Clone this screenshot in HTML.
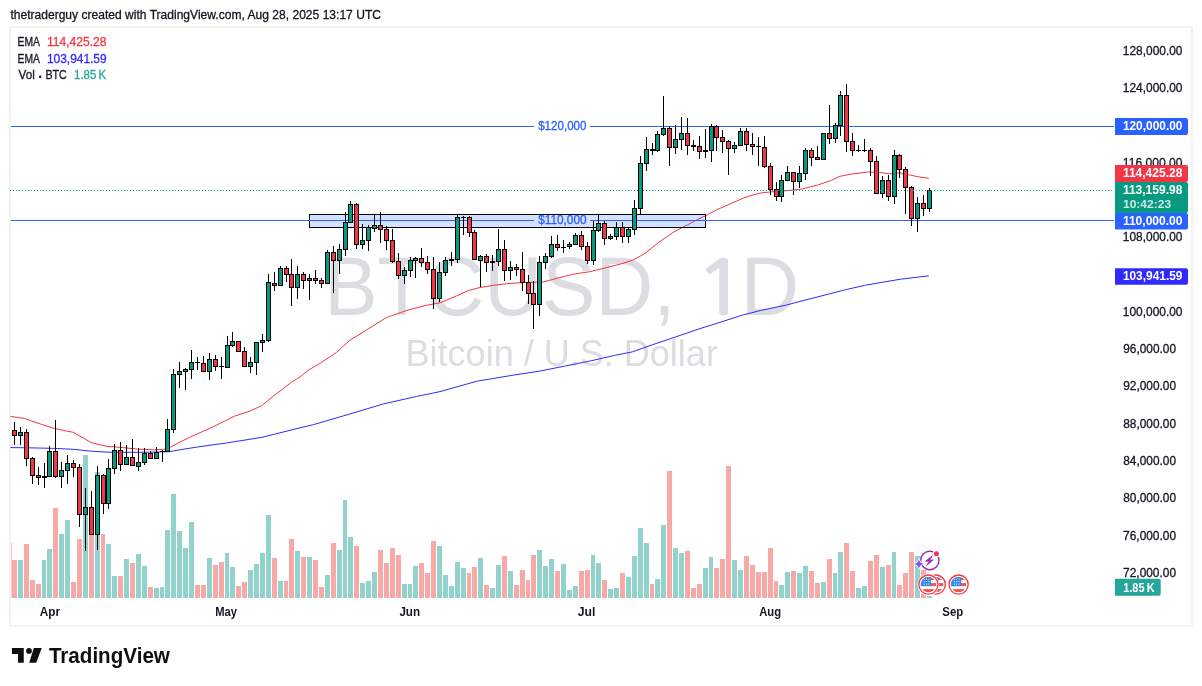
<!DOCTYPE html>
<html lang="en"><head><meta charset="utf-8"><title>BTCUSD 1D - TradingView</title>
<style>html,body{margin:0;padding:0;background:#fff}svg{display:block}</style>
</head><body>
<svg width="1202" height="686" viewBox="0 0 1202 686" font-family='"Liberation Sans", Arial, sans-serif'>
<rect width="1202" height="686" fill="#fff"/>
<rect x="10" y="27" width="1182" height="599" fill="none" stroke="#f2f2f2" stroke-width="2"/>
<text transform="translate(10.38,18.90) scale(0.9798,1)" font-size="12.32" fill="#131722" stroke="#131722" stroke-width="0.3">thetraderguy created with TradingView.com, Aug 28, 2025 13:17 UTC</text>
<text fill="#dcdde0"><tspan x="324.20" y="314.70" font-size="84.20" textLength="351.23" lengthAdjust="spacingAndGlyphs">BTCUSD,</tspan><tspan> </tspan><tspan x="695.01" y="313.80" font-size="73.55" textLength="51.91" lengthAdjust="spacingAndGlyphs" font-family="NanumGothic, &quot;Liberation Sans&quot;, sans-serif" stroke="#dcdde0" stroke-width="2.4">1</tspan><tspan x="740.63" y="314.70" font-size="84.20" textLength="58.38" lengthAdjust="spacingAndGlyphs">D</tspan></text>
<text transform="translate(405.52,365.90) scale(0.9717,1)" font-size="37.10" fill="#dcdde0">Bitcoin / U.S. Dollar</text>
<g shape-rendering="crispEdges">
<rect x="10.5" y="543" width="1" height="55" fill="#f7a9a7" fill-opacity="0.6"/>
<rect x="12" y="560" width="5" height="38" fill="#f7a9a7"/>
<rect x="18" y="560" width="5" height="38" fill="#92d2cc"/>
<rect x="24" y="544" width="5" height="54" fill="#f7a9a7"/>
<rect x="30" y="580" width="5" height="18" fill="#f7a9a7"/>
<rect x="36" y="584" width="5" height="14" fill="#f7a9a7"/>
<rect x="42" y="560" width="4" height="38" fill="#92d2cc"/>
<rect x="47" y="549" width="5" height="49" fill="#92d2cc"/>
<rect x="53" y="508" width="5" height="90" fill="#f7a9a7"/>
<rect x="59" y="534" width="5" height="64" fill="#92d2cc"/>
<rect x="65" y="520" width="5" height="78" fill="#92d2cc"/>
<rect x="71" y="582" width="5" height="16" fill="#f7a9a7"/>
<rect x="77" y="539" width="5" height="59" fill="#f7a9a7"/>
<rect x="83" y="455" width="5" height="143" fill="#92d2cc"/>
<rect x="89" y="515" width="5" height="83" fill="#f7a9a7"/>
<rect x="95" y="472" width="5" height="126" fill="#92d2cc"/>
<rect x="101" y="534" width="4" height="64" fill="#f7a9a7"/>
<rect x="106" y="544" width="5" height="54" fill="#92d2cc"/>
<rect x="112" y="576" width="5" height="22" fill="#92d2cc"/>
<rect x="118" y="576" width="5" height="22" fill="#f7a9a7"/>
<rect x="124" y="559" width="5" height="39" fill="#92d2cc"/>
<rect x="130" y="563" width="5" height="35" fill="#f7a9a7"/>
<rect x="136" y="554" width="5" height="44" fill="#92d2cc"/>
<rect x="142" y="566" width="5" height="32" fill="#92d2cc"/>
<rect x="148" y="587" width="5" height="11" fill="#f7a9a7"/>
<rect x="154" y="588" width="5" height="10" fill="#92d2cc"/>
<rect x="160" y="587" width="4" height="11" fill="#92d2cc"/>
<rect x="165" y="530" width="5" height="68" fill="#92d2cc"/>
<rect x="171" y="494" width="5" height="104" fill="#92d2cc"/>
<rect x="177" y="531" width="5" height="67" fill="#92d2cc"/>
<rect x="183" y="548" width="5" height="50" fill="#92d2cc"/>
<rect x="189" y="522" width="5" height="76" fill="#92d2cc"/>
<rect x="195" y="585" width="5" height="13" fill="#f7a9a7"/>
<rect x="201" y="585" width="5" height="13" fill="#f7a9a7"/>
<rect x="207" y="558" width="5" height="40" fill="#92d2cc"/>
<rect x="213" y="565" width="5" height="33" fill="#f7a9a7"/>
<rect x="219" y="562" width="5" height="36" fill="#f7a9a7"/>
<rect x="225" y="553" width="4" height="45" fill="#92d2cc"/>
<rect x="230" y="567" width="5" height="31" fill="#92d2cc"/>
<rect x="236" y="586" width="5" height="12" fill="#f7a9a7"/>
<rect x="242" y="582" width="5" height="16" fill="#f7a9a7"/>
<rect x="248" y="570" width="5" height="28" fill="#92d2cc"/>
<rect x="254" y="564" width="5" height="34" fill="#92d2cc"/>
<rect x="260" y="553" width="5" height="45" fill="#92d2cc"/>
<rect x="266" y="515" width="5" height="83" fill="#92d2cc"/>
<rect x="272" y="558" width="5" height="40" fill="#f7a9a7"/>
<rect x="278" y="581" width="5" height="17" fill="#92d2cc"/>
<rect x="284" y="581" width="4" height="17" fill="#f7a9a7"/>
<rect x="289" y="539" width="5" height="59" fill="#f7a9a7"/>
<rect x="295" y="551" width="5" height="47" fill="#92d2cc"/>
<rect x="301" y="557" width="5" height="41" fill="#f7a9a7"/>
<rect x="307" y="557" width="5" height="41" fill="#92d2cc"/>
<rect x="313" y="560" width="5" height="38" fill="#f7a9a7"/>
<rect x="319" y="587" width="5" height="11" fill="#f7a9a7"/>
<rect x="325" y="575" width="5" height="23" fill="#92d2cc"/>
<rect x="331" y="543" width="5" height="55" fill="#f7a9a7"/>
<rect x="337" y="550" width="5" height="48" fill="#92d2cc"/>
<rect x="343" y="500" width="4" height="98" fill="#92d2cc"/>
<rect x="348" y="537" width="5" height="61" fill="#92d2cc"/>
<rect x="354" y="546" width="5" height="52" fill="#f7a9a7"/>
<rect x="360" y="583" width="5" height="15" fill="#92d2cc"/>
<rect x="366" y="581" width="5" height="17" fill="#92d2cc"/>
<rect x="372" y="572" width="5" height="26" fill="#92d2cc"/>
<rect x="378" y="550" width="5" height="48" fill="#f7a9a7"/>
<rect x="384" y="563" width="5" height="35" fill="#f7a9a7"/>
<rect x="390" y="548" width="5" height="50" fill="#f7a9a7"/>
<rect x="396" y="555" width="5" height="43" fill="#f7a9a7"/>
<rect x="402" y="584" width="5" height="14" fill="#92d2cc"/>
<rect x="408" y="584" width="4" height="14" fill="#92d2cc"/>
<rect x="413" y="566" width="5" height="32" fill="#92d2cc"/>
<rect x="419" y="563" width="5" height="35" fill="#f7a9a7"/>
<rect x="425" y="573" width="5" height="25" fill="#f7a9a7"/>
<rect x="431" y="541" width="5" height="57" fill="#f7a9a7"/>
<rect x="437" y="546" width="5" height="52" fill="#92d2cc"/>
<rect x="443" y="575" width="5" height="23" fill="#92d2cc"/>
<rect x="449" y="586" width="5" height="12" fill="#92d2cc"/>
<rect x="455" y="562" width="5" height="36" fill="#92d2cc"/>
<rect x="461" y="568" width="5" height="30" fill="#92d2cc"/>
<rect x="467" y="573" width="4" height="25" fill="#f7a9a7"/>
<rect x="472" y="567" width="5" height="31" fill="#f7a9a7"/>
<rect x="478" y="558" width="5" height="40" fill="#92d2cc"/>
<rect x="484" y="585" width="5" height="13" fill="#f7a9a7"/>
<rect x="490" y="588" width="5" height="10" fill="#92d2cc"/>
<rect x="496" y="565" width="5" height="33" fill="#92d2cc"/>
<rect x="502" y="556" width="5" height="42" fill="#f7a9a7"/>
<rect x="508" y="571" width="5" height="27" fill="#92d2cc"/>
<rect x="514" y="585" width="5" height="13" fill="#f7a9a7"/>
<rect x="520" y="570" width="5" height="28" fill="#f7a9a7"/>
<rect x="526" y="580" width="4" height="18" fill="#f7a9a7"/>
<rect x="531" y="555" width="5" height="43" fill="#f7a9a7"/>
<rect x="537" y="550" width="5" height="48" fill="#92d2cc"/>
<rect x="543" y="566" width="5" height="32" fill="#92d2cc"/>
<rect x="549" y="559" width="5" height="39" fill="#92d2cc"/>
<rect x="555" y="571" width="5" height="27" fill="#f7a9a7"/>
<rect x="561" y="564" width="5" height="34" fill="#92d2cc"/>
<rect x="567" y="590" width="5" height="8" fill="#92d2cc"/>
<rect x="573" y="586" width="5" height="12" fill="#92d2cc"/>
<rect x="579" y="571" width="5" height="27" fill="#f7a9a7"/>
<rect x="585" y="570" width="5" height="28" fill="#f7a9a7"/>
<rect x="591" y="555" width="4" height="43" fill="#92d2cc"/>
<rect x="596" y="563" width="5" height="35" fill="#92d2cc"/>
<rect x="602" y="580" width="5" height="18" fill="#f7a9a7"/>
<rect x="608" y="589" width="5" height="9" fill="#92d2cc"/>
<rect x="614" y="588" width="5" height="10" fill="#92d2cc"/>
<rect x="620" y="573" width="5" height="25" fill="#f7a9a7"/>
<rect x="626" y="577" width="5" height="21" fill="#92d2cc"/>
<rect x="632" y="556" width="5" height="42" fill="#92d2cc"/>
<rect x="638" y="528" width="5" height="70" fill="#92d2cc"/>
<rect x="644" y="543" width="5" height="55" fill="#92d2cc"/>
<rect x="650" y="584" width="4" height="14" fill="#f7a9a7"/>
<rect x="655" y="579" width="5" height="19" fill="#92d2cc"/>
<rect x="661" y="525" width="5" height="73" fill="#92d2cc"/>
<rect x="667" y="471" width="5" height="127" fill="#f7a9a7"/>
<rect x="673" y="548" width="5" height="50" fill="#92d2cc"/>
<rect x="679" y="553" width="5" height="45" fill="#92d2cc"/>
<rect x="685" y="551" width="5" height="47" fill="#f7a9a7"/>
<rect x="691" y="588" width="5" height="10" fill="#f7a9a7"/>
<rect x="697" y="584" width="5" height="14" fill="#f7a9a7"/>
<rect x="703" y="568" width="5" height="30" fill="#92d2cc"/>
<rect x="709" y="557" width="4" height="41" fill="#92d2cc"/>
<rect x="714" y="568" width="5" height="30" fill="#f7a9a7"/>
<rect x="720" y="559" width="5" height="39" fill="#f7a9a7"/>
<rect x="726" y="466" width="5" height="132" fill="#f7a9a7"/>
<rect x="732" y="560" width="5" height="38" fill="#92d2cc"/>
<rect x="738" y="570" width="5" height="28" fill="#92d2cc"/>
<rect x="744" y="556" width="5" height="42" fill="#f7a9a7"/>
<rect x="750" y="565" width="5" height="33" fill="#f7a9a7"/>
<rect x="756" y="572" width="5" height="26" fill="#f7a9a7"/>
<rect x="762" y="572" width="5" height="26" fill="#f7a9a7"/>
<rect x="768" y="548" width="5" height="50" fill="#f7a9a7"/>
<rect x="774" y="581" width="4" height="17" fill="#f7a9a7"/>
<rect x="779" y="585" width="5" height="13" fill="#92d2cc"/>
<rect x="785" y="572" width="5" height="26" fill="#92d2cc"/>
<rect x="791" y="571" width="5" height="27" fill="#f7a9a7"/>
<rect x="797" y="573" width="5" height="25" fill="#92d2cc"/>
<rect x="803" y="566" width="5" height="32" fill="#92d2cc"/>
<rect x="809" y="571" width="5" height="27" fill="#f7a9a7"/>
<rect x="815" y="583" width="5" height="15" fill="#f7a9a7"/>
<rect x="821" y="582" width="5" height="16" fill="#92d2cc"/>
<rect x="827" y="559" width="5" height="39" fill="#f7a9a7"/>
<rect x="833" y="573" width="4" height="25" fill="#92d2cc"/>
<rect x="838" y="552" width="5" height="46" fill="#92d2cc"/>
<rect x="844" y="543" width="5" height="55" fill="#f7a9a7"/>
<rect x="850" y="571" width="5" height="27" fill="#f7a9a7"/>
<rect x="856" y="588" width="5" height="10" fill="#92d2cc"/>
<rect x="862" y="586" width="5" height="12" fill="#92d2cc"/>
<rect x="868" y="561" width="5" height="37" fill="#f7a9a7"/>
<rect x="874" y="555" width="5" height="43" fill="#f7a9a7"/>
<rect x="880" y="567" width="5" height="31" fill="#92d2cc"/>
<rect x="886" y="565" width="5" height="33" fill="#f7a9a7"/>
<rect x="892" y="552" width="4" height="46" fill="#92d2cc"/>
<rect x="897" y="585" width="5" height="13" fill="#f7a9a7"/>
<rect x="903" y="573" width="5" height="25" fill="#f7a9a7"/>
<rect x="909" y="552" width="5" height="46" fill="#f7a9a7"/>
<rect x="915" y="556" width="5" height="42" fill="#92d2cc"/>
<rect x="921" y="570" width="5" height="28" fill="#f7a9a7"/>
<rect x="927" y="596" width="5" height="2" fill="#92d2cc"/>
</g>
<path d="M10.5,416.4 L24.6,418.5 L41.3,424.3 L54.6,428.5 L66.2,431.0 L72.9,432.2 L81.2,436.8 L91.2,442.6 L99.5,444.7 L108.0,446.5 L119.8,447.3 L137.3,449.1 L154.7,449.8 L167.2,449.1 L174.7,444.8 L189.7,437.3 L212.1,427.3 L234.6,416.1 L250.0,411.1 L261.6,405.7 L275.0,394.8 L287.0,385.8 L291.6,382.0 L300.0,377.0 L308.2,370.3 L321.5,362.4 L336.5,352.4 L349.8,340.4 L366.5,330.0 L386.4,317.5 L408.1,310.0 L426.4,305.3 L440.0,302.8 L456.6,295.9 L468.3,290.5 L479.9,287.5 L494.9,285.1 L509.9,283.4 L523.2,282.6 L543.2,282.0 L556.5,278.4 L573.1,274.2 L589.8,271.7 L606.4,267.6 L623.0,263.4 L633.0,260.1 L644.0,254.0 L659.9,241.5 L673.2,232.3 L686.5,225.4 L697.5,219.5 L705.5,215.8 L716.4,209.9 L729.8,204.1 L743.1,198.2 L753.0,194.9 L761.4,192.9 L769.7,192.0 L785.0,190.8 L801.6,189.1 L818.2,184.9 L831.5,180.3 L839.9,176.3 L853.2,173.8 L868.2,172.0 L879.8,172.5 L889.8,173.8 L899.8,172.8 L909.8,175.0 L919.7,177.0 L928.9,178.3" fill="none" stroke="#f23645" stroke-width="1" stroke-linejoin="round"/>
<path d="M10.5,447.6 L33.0,447.9 L54.6,448.4 L74.6,449.4 L91.2,451.2 L108.0,452.2 L124.8,452.3 L149.7,452.2 L169.7,451.6 L183.0,449.3 L200.0,446.6 L226.5,443.0 L262.0,437.3 L300.0,427.8 L313.3,424.7 L349.8,414.0 L383.1,404.0 L416.4,396.5 L440.0,391.6 L477.4,381.1 L514.9,374.9 L539.8,371.1 L564.8,366.1 L589.7,361.1 L614.7,355.4 L632.2,351.9 L652.1,344.9 L677.1,336.4 L700.0,328.6 L721.6,321.8 L743.3,314.8 L760.6,310.5 L786.5,305.0 L808.2,299.3 L829.8,293.8 L842.8,290.4 L864.4,285.4 L883.9,282.0 L901.2,279.1 L916.3,277.3 L928.9,275.8" fill="none" stroke="#302afc" stroke-width="1" stroke-linejoin="round"/>
<g shape-rendering="crispEdges">
<rect x="309.5" y="214.5" width="396" height="13" fill="#2962ff" fill-opacity="0.2" stroke="#000" stroke-width="1"/>
<rect x="11" y="126" width="523" height="1" fill="#2962ff"/><rect x="590" y="126" width="524" height="1" fill="#2962ff"/>
<rect x="11" y="220" width="523" height="1" fill="#2962ff"/><rect x="590" y="220" width="524" height="1" fill="#2962ff"/>
</g>
<g font-size="11.8" fill="#2962ff">
<text transform="translate(538.18,129.80) scale(0.9774,1)" font-size="11.86" fill="#2962ff" stroke="#2962ff" stroke-width="0.3">$120,000</text>
<text transform="translate(538.18,223.90) scale(0.9953,1)" font-size="11.86" fill="#2962ff" stroke="#2962ff" stroke-width="0.3">$110,000</text>
</g>
<g shape-rendering="crispEdges">
<rect x="14" y="422" width="1" height="23" fill="#000"/>
<rect x="12" y="430" width="5" height="6" fill="#000"/>
<rect x="13" y="431" width="3" height="4" fill="#f23645"/>
<rect x="20" y="427" width="1" height="18" fill="#000"/>
<rect x="18" y="432" width="5" height="4" fill="#000"/>
<rect x="19" y="433" width="3" height="2" fill="#089981"/>
<rect x="26" y="429" width="1" height="37" fill="#000"/>
<rect x="24" y="432" width="5" height="27" fill="#000"/>
<rect x="25" y="433" width="3" height="25" fill="#f23645"/>
<rect x="32" y="457" width="1" height="27" fill="#000"/>
<rect x="30" y="458" width="5" height="18" fill="#000"/>
<rect x="31" y="459" width="3" height="16" fill="#f23645"/>
<rect x="38" y="467" width="1" height="18" fill="#000"/>
<rect x="36" y="475" width="5" height="3" fill="#000"/>
<rect x="37" y="476" width="3" height="1" fill="#f23645"/>
<rect x="44" y="463" width="1" height="25" fill="#000"/>
<rect x="42" y="476" width="5" height="2" fill="#000"/>
<rect x="49" y="446" width="1" height="31" fill="#000"/>
<rect x="47" y="451" width="5" height="26" fill="#000"/>
<rect x="48" y="452" width="3" height="24" fill="#089981"/>
<rect x="55" y="420" width="1" height="58" fill="#000"/>
<rect x="53" y="451" width="5" height="26" fill="#000"/>
<rect x="54" y="452" width="3" height="24" fill="#f23645"/>
<rect x="61" y="462" width="1" height="26" fill="#000"/>
<rect x="59" y="470" width="5" height="7" fill="#000"/>
<rect x="60" y="471" width="3" height="5" fill="#089981"/>
<rect x="67" y="455" width="1" height="29" fill="#000"/>
<rect x="65" y="463" width="5" height="8" fill="#000"/>
<rect x="66" y="464" width="3" height="6" fill="#089981"/>
<rect x="73" y="460" width="1" height="17" fill="#000"/>
<rect x="71" y="463" width="5" height="5" fill="#000"/>
<rect x="72" y="464" width="3" height="3" fill="#f23645"/>
<rect x="79" y="464" width="1" height="63" fill="#000"/>
<rect x="77" y="467" width="5" height="48" fill="#000"/>
<rect x="78" y="468" width="3" height="46" fill="#f23645"/>
<rect x="85" y="488" width="1" height="63" fill="#000"/>
<rect x="83" y="507" width="5" height="8" fill="#000"/>
<rect x="84" y="508" width="3" height="6" fill="#089981"/>
<rect x="91" y="491" width="1" height="44" fill="#000"/>
<rect x="89" y="507" width="5" height="28" fill="#000"/>
<rect x="90" y="508" width="3" height="26" fill="#f23645"/>
<rect x="97" y="466" width="1" height="84" fill="#000"/>
<rect x="95" y="475" width="5" height="60" fill="#000"/>
<rect x="96" y="476" width="3" height="58" fill="#089981"/>
<rect x="103" y="474" width="1" height="40" fill="#000"/>
<rect x="101" y="475" width="5" height="29" fill="#000"/>
<rect x="102" y="476" width="3" height="27" fill="#f23645"/>
<rect x="108" y="459" width="1" height="50" fill="#000"/>
<rect x="106" y="468" width="5" height="36" fill="#000"/>
<rect x="107" y="469" width="3" height="34" fill="#089981"/>
<rect x="114" y="444" width="1" height="30" fill="#000"/>
<rect x="112" y="450" width="5" height="19" fill="#000"/>
<rect x="113" y="451" width="3" height="17" fill="#089981"/>
<rect x="120" y="442" width="1" height="29" fill="#000"/>
<rect x="118" y="450" width="5" height="15" fill="#000"/>
<rect x="119" y="451" width="3" height="13" fill="#f23645"/>
<rect x="126" y="445" width="1" height="20" fill="#000"/>
<rect x="124" y="457" width="5" height="8" fill="#000"/>
<rect x="125" y="458" width="3" height="6" fill="#089981"/>
<rect x="132" y="439" width="1" height="27" fill="#000"/>
<rect x="130" y="457" width="5" height="9" fill="#000"/>
<rect x="131" y="458" width="3" height="7" fill="#f23645"/>
<rect x="138" y="448" width="1" height="23" fill="#000"/>
<rect x="136" y="462" width="5" height="5" fill="#000"/>
<rect x="137" y="463" width="3" height="3" fill="#089981"/>
<rect x="144" y="448" width="1" height="17" fill="#000"/>
<rect x="142" y="453" width="5" height="10" fill="#000"/>
<rect x="143" y="454" width="3" height="8" fill="#089981"/>
<rect x="150" y="451" width="1" height="8" fill="#000"/>
<rect x="148" y="453" width="5" height="6" fill="#000"/>
<rect x="149" y="454" width="3" height="4" fill="#f23645"/>
<rect x="156" y="447" width="1" height="12" fill="#000"/>
<rect x="154" y="452" width="5" height="7" fill="#000"/>
<rect x="155" y="453" width="3" height="5" fill="#089981"/>
<rect x="162" y="450" width="1" height="12" fill="#000"/>
<rect x="160" y="451" width="5" height="1" fill="#000"/>
<rect x="167" y="419" width="1" height="33" fill="#000"/>
<rect x="165" y="429" width="5" height="23" fill="#000"/>
<rect x="166" y="430" width="3" height="21" fill="#089981"/>
<rect x="173" y="369" width="1" height="64" fill="#000"/>
<rect x="171" y="374" width="5" height="56" fill="#000"/>
<rect x="172" y="375" width="3" height="54" fill="#089981"/>
<rect x="179" y="362" width="1" height="26" fill="#000"/>
<rect x="177" y="371" width="5" height="4" fill="#000"/>
<rect x="178" y="372" width="3" height="2" fill="#089981"/>
<rect x="185" y="368" width="1" height="22" fill="#000"/>
<rect x="183" y="369" width="5" height="3" fill="#000"/>
<rect x="184" y="370" width="3" height="1" fill="#089981"/>
<rect x="191" y="350" width="1" height="29" fill="#000"/>
<rect x="189" y="362" width="5" height="8" fill="#000"/>
<rect x="190" y="363" width="3" height="6" fill="#089981"/>
<rect x="197" y="357" width="1" height="13" fill="#000"/>
<rect x="195" y="362" width="5" height="1" fill="#000"/>
<rect x="203" y="356" width="1" height="16" fill="#000"/>
<rect x="201" y="363" width="5" height="9" fill="#000"/>
<rect x="202" y="364" width="3" height="7" fill="#f23645"/>
<rect x="209" y="353" width="1" height="27" fill="#000"/>
<rect x="207" y="359" width="5" height="13" fill="#000"/>
<rect x="208" y="360" width="3" height="11" fill="#089981"/>
<rect x="215" y="355" width="1" height="16" fill="#000"/>
<rect x="213" y="359" width="5" height="8" fill="#000"/>
<rect x="214" y="360" width="3" height="6" fill="#f23645"/>
<rect x="221" y="357" width="1" height="22" fill="#000"/>
<rect x="219" y="366" width="5" height="1" fill="#000"/>
<rect x="227" y="336" width="1" height="32" fill="#000"/>
<rect x="225" y="345" width="5" height="23" fill="#000"/>
<rect x="226" y="346" width="3" height="21" fill="#089981"/>
<rect x="232" y="332" width="1" height="15" fill="#000"/>
<rect x="230" y="341" width="5" height="5" fill="#000"/>
<rect x="231" y="342" width="3" height="3" fill="#089981"/>
<rect x="238" y="341" width="1" height="11" fill="#000"/>
<rect x="236" y="341" width="5" height="11" fill="#000"/>
<rect x="237" y="342" width="3" height="9" fill="#f23645"/>
<rect x="244" y="347" width="1" height="20" fill="#000"/>
<rect x="242" y="351" width="5" height="16" fill="#000"/>
<rect x="243" y="352" width="3" height="14" fill="#f23645"/>
<rect x="250" y="357" width="1" height="16" fill="#000"/>
<rect x="248" y="362" width="5" height="5" fill="#000"/>
<rect x="249" y="363" width="3" height="3" fill="#089981"/>
<rect x="256" y="342" width="1" height="33" fill="#000"/>
<rect x="254" y="342" width="5" height="21" fill="#000"/>
<rect x="255" y="343" width="3" height="19" fill="#089981"/>
<rect x="262" y="334" width="1" height="18" fill="#000"/>
<rect x="260" y="340" width="5" height="3" fill="#000"/>
<rect x="261" y="341" width="3" height="1" fill="#089981"/>
<rect x="268" y="274" width="1" height="68" fill="#000"/>
<rect x="266" y="282" width="5" height="59" fill="#000"/>
<rect x="267" y="283" width="3" height="57" fill="#089981"/>
<rect x="274" y="272" width="1" height="19" fill="#000"/>
<rect x="272" y="283" width="5" height="3" fill="#000"/>
<rect x="273" y="284" width="3" height="1" fill="#f23645"/>
<rect x="280" y="266" width="1" height="20" fill="#000"/>
<rect x="278" y="268" width="5" height="18" fill="#000"/>
<rect x="279" y="269" width="3" height="16" fill="#089981"/>
<rect x="286" y="266" width="1" height="16" fill="#000"/>
<rect x="284" y="268" width="5" height="7" fill="#000"/>
<rect x="285" y="269" width="3" height="5" fill="#f23645"/>
<rect x="291" y="259" width="1" height="47" fill="#000"/>
<rect x="289" y="274" width="5" height="14" fill="#000"/>
<rect x="290" y="275" width="3" height="12" fill="#f23645"/>
<rect x="297" y="266" width="1" height="33" fill="#000"/>
<rect x="295" y="274" width="5" height="14" fill="#000"/>
<rect x="296" y="275" width="3" height="12" fill="#089981"/>
<rect x="303" y="272" width="1" height="17" fill="#000"/>
<rect x="301" y="274" width="5" height="7" fill="#000"/>
<rect x="302" y="275" width="3" height="5" fill="#f23645"/>
<rect x="309" y="274" width="1" height="26" fill="#000"/>
<rect x="307" y="278" width="5" height="3" fill="#000"/>
<rect x="308" y="279" width="3" height="1" fill="#089981"/>
<rect x="315" y="270" width="1" height="14" fill="#000"/>
<rect x="313" y="278" width="5" height="3" fill="#000"/>
<rect x="314" y="279" width="3" height="1" fill="#f23645"/>
<rect x="321" y="278" width="1" height="10" fill="#000"/>
<rect x="319" y="280" width="5" height="4" fill="#000"/>
<rect x="320" y="281" width="3" height="2" fill="#f23645"/>
<rect x="327" y="250" width="1" height="34" fill="#000"/>
<rect x="325" y="252" width="5" height="32" fill="#000"/>
<rect x="326" y="253" width="3" height="30" fill="#089981"/>
<rect x="333" y="246" width="1" height="47" fill="#000"/>
<rect x="331" y="252" width="5" height="9" fill="#000"/>
<rect x="332" y="253" width="3" height="7" fill="#f23645"/>
<rect x="339" y="244" width="1" height="30" fill="#000"/>
<rect x="337" y="249" width="5" height="12" fill="#000"/>
<rect x="338" y="250" width="3" height="10" fill="#089981"/>
<rect x="345" y="212" width="1" height="44" fill="#000"/>
<rect x="343" y="222" width="5" height="28" fill="#000"/>
<rect x="344" y="223" width="3" height="26" fill="#089981"/>
<rect x="350" y="201" width="1" height="22" fill="#000"/>
<rect x="348" y="204" width="5" height="19" fill="#000"/>
<rect x="349" y="205" width="3" height="17" fill="#089981"/>
<rect x="356" y="203" width="1" height="46" fill="#000"/>
<rect x="354" y="204" width="5" height="41" fill="#000"/>
<rect x="355" y="205" width="3" height="39" fill="#f23645"/>
<rect x="362" y="224" width="1" height="25" fill="#000"/>
<rect x="360" y="240" width="5" height="5" fill="#000"/>
<rect x="361" y="241" width="3" height="3" fill="#089981"/>
<rect x="368" y="225" width="1" height="26" fill="#000"/>
<rect x="366" y="227" width="5" height="14" fill="#000"/>
<rect x="367" y="228" width="3" height="12" fill="#089981"/>
<rect x="374" y="214" width="1" height="18" fill="#000"/>
<rect x="372" y="225" width="5" height="4" fill="#000"/>
<rect x="373" y="226" width="3" height="2" fill="#089981"/>
<rect x="380" y="212" width="1" height="31" fill="#000"/>
<rect x="378" y="225" width="5" height="5" fill="#000"/>
<rect x="379" y="226" width="3" height="3" fill="#f23645"/>
<rect x="386" y="226" width="1" height="24" fill="#000"/>
<rect x="384" y="229" width="5" height="12" fill="#000"/>
<rect x="385" y="230" width="3" height="10" fill="#f23645"/>
<rect x="392" y="229" width="1" height="34" fill="#000"/>
<rect x="390" y="240" width="5" height="22" fill="#000"/>
<rect x="391" y="241" width="3" height="20" fill="#f23645"/>
<rect x="398" y="253" width="1" height="26" fill="#000"/>
<rect x="396" y="261" width="5" height="15" fill="#000"/>
<rect x="397" y="262" width="3" height="13" fill="#f23645"/>
<rect x="404" y="267" width="1" height="17" fill="#000"/>
<rect x="402" y="270" width="5" height="6" fill="#000"/>
<rect x="403" y="271" width="3" height="4" fill="#089981"/>
<rect x="410" y="257" width="1" height="20" fill="#000"/>
<rect x="408" y="260" width="5" height="11" fill="#000"/>
<rect x="409" y="261" width="3" height="9" fill="#089981"/>
<rect x="415" y="257" width="1" height="21" fill="#000"/>
<rect x="413" y="258" width="5" height="3" fill="#000"/>
<rect x="414" y="259" width="3" height="1" fill="#089981"/>
<rect x="421" y="248" width="1" height="19" fill="#000"/>
<rect x="419" y="258" width="5" height="5" fill="#000"/>
<rect x="420" y="259" width="3" height="3" fill="#f23645"/>
<rect x="427" y="256" width="1" height="18" fill="#000"/>
<rect x="425" y="262" width="5" height="8" fill="#000"/>
<rect x="426" y="263" width="3" height="6" fill="#f23645"/>
<rect x="433" y="257" width="1" height="52" fill="#000"/>
<rect x="431" y="269" width="5" height="30" fill="#000"/>
<rect x="432" y="270" width="3" height="28" fill="#f23645"/>
<rect x="439" y="262" width="1" height="40" fill="#000"/>
<rect x="437" y="272" width="5" height="27" fill="#000"/>
<rect x="438" y="273" width="3" height="25" fill="#089981"/>
<rect x="445" y="257" width="1" height="19" fill="#000"/>
<rect x="443" y="260" width="5" height="13" fill="#000"/>
<rect x="444" y="261" width="3" height="11" fill="#089981"/>
<rect x="451" y="252" width="1" height="14" fill="#000"/>
<rect x="449" y="259" width="5" height="2" fill="#000"/>
<rect x="457" y="214" width="1" height="49" fill="#000"/>
<rect x="455" y="217" width="5" height="43" fill="#000"/>
<rect x="456" y="218" width="3" height="41" fill="#089981"/>
<rect x="463" y="216" width="1" height="19" fill="#000"/>
<rect x="461" y="217" width="5" height="1" fill="#000"/>
<rect x="469" y="216" width="1" height="21" fill="#000"/>
<rect x="467" y="217" width="5" height="16" fill="#000"/>
<rect x="468" y="218" width="3" height="14" fill="#f23645"/>
<rect x="474" y="230" width="1" height="30" fill="#000"/>
<rect x="472" y="232" width="5" height="28" fill="#000"/>
<rect x="473" y="233" width="3" height="26" fill="#f23645"/>
<rect x="480" y="255" width="1" height="32" fill="#000"/>
<rect x="478" y="256" width="5" height="5" fill="#000"/>
<rect x="479" y="257" width="3" height="3" fill="#089981"/>
<rect x="486" y="254" width="1" height="18" fill="#000"/>
<rect x="484" y="256" width="5" height="7" fill="#000"/>
<rect x="485" y="257" width="3" height="5" fill="#f23645"/>
<rect x="492" y="255" width="1" height="16" fill="#000"/>
<rect x="490" y="261" width="5" height="2" fill="#000"/>
<rect x="498" y="229" width="1" height="37" fill="#000"/>
<rect x="496" y="249" width="5" height="13" fill="#000"/>
<rect x="497" y="250" width="3" height="11" fill="#089981"/>
<rect x="504" y="240" width="1" height="41" fill="#000"/>
<rect x="502" y="249" width="5" height="22" fill="#000"/>
<rect x="503" y="250" width="3" height="20" fill="#f23645"/>
<rect x="510" y="261" width="1" height="19" fill="#000"/>
<rect x="508" y="267" width="5" height="4" fill="#000"/>
<rect x="509" y="268" width="3" height="2" fill="#089981"/>
<rect x="516" y="264" width="1" height="12" fill="#000"/>
<rect x="514" y="267" width="5" height="3" fill="#000"/>
<rect x="515" y="268" width="3" height="1" fill="#f23645"/>
<rect x="522" y="252" width="1" height="39" fill="#000"/>
<rect x="520" y="269" width="5" height="14" fill="#000"/>
<rect x="521" y="270" width="3" height="12" fill="#f23645"/>
<rect x="528" y="275" width="1" height="29" fill="#000"/>
<rect x="526" y="282" width="5" height="12" fill="#000"/>
<rect x="527" y="283" width="3" height="10" fill="#f23645"/>
<rect x="533" y="281" width="1" height="48" fill="#000"/>
<rect x="531" y="293" width="5" height="12" fill="#000"/>
<rect x="532" y="294" width="3" height="10" fill="#f23645"/>
<rect x="539" y="256" width="1" height="60" fill="#000"/>
<rect x="537" y="262" width="5" height="43" fill="#000"/>
<rect x="538" y="263" width="3" height="41" fill="#089981"/>
<rect x="545" y="253" width="1" height="16" fill="#000"/>
<rect x="543" y="256" width="5" height="7" fill="#000"/>
<rect x="544" y="257" width="3" height="5" fill="#089981"/>
<rect x="551" y="236" width="1" height="22" fill="#000"/>
<rect x="549" y="244" width="5" height="13" fill="#000"/>
<rect x="550" y="245" width="3" height="11" fill="#089981"/>
<rect x="557" y="235" width="1" height="16" fill="#000"/>
<rect x="555" y="244" width="5" height="4" fill="#000"/>
<rect x="556" y="245" width="3" height="2" fill="#f23645"/>
<rect x="563" y="240" width="1" height="13" fill="#000"/>
<rect x="561" y="247" width="5" height="1" fill="#000"/>
<rect x="569" y="242" width="1" height="7" fill="#000"/>
<rect x="567" y="244" width="5" height="3" fill="#000"/>
<rect x="568" y="245" width="3" height="1" fill="#089981"/>
<rect x="575" y="233" width="1" height="12" fill="#000"/>
<rect x="573" y="235" width="5" height="10" fill="#000"/>
<rect x="574" y="236" width="3" height="8" fill="#089981"/>
<rect x="581" y="231" width="1" height="19" fill="#000"/>
<rect x="579" y="235" width="5" height="12" fill="#000"/>
<rect x="580" y="236" width="3" height="10" fill="#f23645"/>
<rect x="587" y="242" width="1" height="22" fill="#000"/>
<rect x="585" y="246" width="5" height="15" fill="#000"/>
<rect x="586" y="247" width="3" height="13" fill="#f23645"/>
<rect x="593" y="221" width="1" height="44" fill="#000"/>
<rect x="591" y="230" width="5" height="31" fill="#000"/>
<rect x="592" y="231" width="3" height="29" fill="#089981"/>
<rect x="598" y="215" width="1" height="17" fill="#000"/>
<rect x="596" y="223" width="5" height="8" fill="#000"/>
<rect x="597" y="224" width="3" height="6" fill="#089981"/>
<rect x="604" y="221" width="1" height="24" fill="#000"/>
<rect x="602" y="223" width="5" height="16" fill="#000"/>
<rect x="603" y="224" width="3" height="14" fill="#f23645"/>
<rect x="610" y="234" width="1" height="6" fill="#000"/>
<rect x="608" y="236" width="5" height="3" fill="#000"/>
<rect x="609" y="237" width="3" height="1" fill="#089981"/>
<rect x="616" y="222" width="1" height="18" fill="#000"/>
<rect x="614" y="227" width="5" height="10" fill="#000"/>
<rect x="615" y="228" width="3" height="8" fill="#089981"/>
<rect x="622" y="222" width="1" height="21" fill="#000"/>
<rect x="620" y="227" width="5" height="10" fill="#000"/>
<rect x="621" y="228" width="3" height="8" fill="#f23645"/>
<rect x="628" y="227" width="1" height="16" fill="#000"/>
<rect x="626" y="229" width="5" height="8" fill="#000"/>
<rect x="627" y="230" width="3" height="6" fill="#089981"/>
<rect x="634" y="200" width="1" height="35" fill="#000"/>
<rect x="632" y="208" width="5" height="22" fill="#000"/>
<rect x="633" y="209" width="3" height="20" fill="#089981"/>
<rect x="640" y="156" width="1" height="58" fill="#000"/>
<rect x="638" y="163" width="5" height="46" fill="#000"/>
<rect x="639" y="164" width="3" height="44" fill="#089981"/>
<rect x="646" y="137" width="1" height="34" fill="#000"/>
<rect x="644" y="149" width="5" height="15" fill="#000"/>
<rect x="645" y="150" width="3" height="13" fill="#089981"/>
<rect x="652" y="143" width="1" height="12" fill="#000"/>
<rect x="650" y="149" width="5" height="2" fill="#000"/>
<rect x="657" y="131" width="1" height="21" fill="#000"/>
<rect x="655" y="134" width="5" height="17" fill="#000"/>
<rect x="656" y="135" width="3" height="15" fill="#089981"/>
<rect x="663" y="96" width="1" height="40" fill="#000"/>
<rect x="661" y="128" width="5" height="7" fill="#000"/>
<rect x="662" y="129" width="3" height="5" fill="#089981"/>
<rect x="669" y="127" width="1" height="39" fill="#000"/>
<rect x="667" y="128" width="5" height="20" fill="#000"/>
<rect x="668" y="129" width="3" height="18" fill="#f23645"/>
<rect x="675" y="125" width="1" height="29" fill="#000"/>
<rect x="673" y="139" width="5" height="9" fill="#000"/>
<rect x="674" y="140" width="3" height="7" fill="#089981"/>
<rect x="681" y="117" width="1" height="33" fill="#000"/>
<rect x="679" y="133" width="5" height="7" fill="#000"/>
<rect x="680" y="134" width="3" height="5" fill="#089981"/>
<rect x="687" y="118" width="1" height="37" fill="#000"/>
<rect x="685" y="133" width="5" height="13" fill="#000"/>
<rect x="686" y="134" width="3" height="11" fill="#f23645"/>
<rect x="693" y="140" width="1" height="11" fill="#000"/>
<rect x="691" y="145" width="5" height="2" fill="#000"/>
<rect x="699" y="136" width="1" height="23" fill="#000"/>
<rect x="697" y="146" width="5" height="6" fill="#000"/>
<rect x="698" y="147" width="3" height="4" fill="#f23645"/>
<rect x="705" y="129" width="1" height="29" fill="#000"/>
<rect x="703" y="150" width="5" height="2" fill="#000"/>
<rect x="711" y="124" width="1" height="38" fill="#000"/>
<rect x="709" y="126" width="5" height="25" fill="#000"/>
<rect x="710" y="127" width="3" height="23" fill="#089981"/>
<rect x="716" y="125" width="1" height="26" fill="#000"/>
<rect x="714" y="126" width="5" height="12" fill="#000"/>
<rect x="715" y="127" width="3" height="10" fill="#f23645"/>
<rect x="722" y="130" width="1" height="23" fill="#000"/>
<rect x="720" y="137" width="5" height="5" fill="#000"/>
<rect x="721" y="138" width="3" height="3" fill="#f23645"/>
<rect x="728" y="140" width="1" height="35" fill="#000"/>
<rect x="726" y="141" width="5" height="8" fill="#000"/>
<rect x="727" y="142" width="3" height="6" fill="#f23645"/>
<rect x="734" y="142" width="1" height="11" fill="#000"/>
<rect x="732" y="145" width="5" height="4" fill="#000"/>
<rect x="733" y="146" width="3" height="2" fill="#089981"/>
<rect x="740" y="128" width="1" height="18" fill="#000"/>
<rect x="738" y="131" width="5" height="15" fill="#000"/>
<rect x="739" y="132" width="3" height="13" fill="#089981"/>
<rect x="746" y="128" width="1" height="23" fill="#000"/>
<rect x="744" y="131" width="5" height="14" fill="#000"/>
<rect x="745" y="132" width="3" height="12" fill="#f23645"/>
<rect x="752" y="133" width="1" height="22" fill="#000"/>
<rect x="750" y="144" width="5" height="3" fill="#000"/>
<rect x="751" y="145" width="3" height="1" fill="#f23645"/>
<rect x="758" y="137" width="1" height="29" fill="#000"/>
<rect x="756" y="146" width="5" height="1" fill="#000"/>
<rect x="764" y="136" width="1" height="32" fill="#000"/>
<rect x="762" y="147" width="5" height="20" fill="#000"/>
<rect x="763" y="148" width="3" height="18" fill="#f23645"/>
<rect x="770" y="163" width="1" height="32" fill="#000"/>
<rect x="768" y="166" width="5" height="24" fill="#000"/>
<rect x="769" y="167" width="3" height="22" fill="#f23645"/>
<rect x="776" y="182" width="1" height="19" fill="#000"/>
<rect x="774" y="189" width="5" height="8" fill="#000"/>
<rect x="775" y="190" width="3" height="6" fill="#f23645"/>
<rect x="781" y="175" width="1" height="27" fill="#000"/>
<rect x="779" y="180" width="5" height="17" fill="#000"/>
<rect x="780" y="181" width="3" height="15" fill="#089981"/>
<rect x="787" y="166" width="1" height="15" fill="#000"/>
<rect x="785" y="172" width="5" height="9" fill="#000"/>
<rect x="786" y="173" width="3" height="7" fill="#089981"/>
<rect x="793" y="172" width="1" height="23" fill="#000"/>
<rect x="791" y="172" width="5" height="10" fill="#000"/>
<rect x="792" y="173" width="3" height="8" fill="#f23645"/>
<rect x="799" y="166" width="1" height="22" fill="#000"/>
<rect x="797" y="173" width="5" height="9" fill="#000"/>
<rect x="798" y="174" width="3" height="7" fill="#089981"/>
<rect x="805" y="148" width="1" height="32" fill="#000"/>
<rect x="803" y="150" width="5" height="24" fill="#000"/>
<rect x="804" y="151" width="3" height="22" fill="#089981"/>
<rect x="811" y="148" width="1" height="18" fill="#000"/>
<rect x="809" y="150" width="5" height="8" fill="#000"/>
<rect x="810" y="151" width="3" height="6" fill="#f23645"/>
<rect x="817" y="146" width="1" height="14" fill="#000"/>
<rect x="815" y="157" width="5" height="3" fill="#000"/>
<rect x="816" y="158" width="3" height="1" fill="#f23645"/>
<rect x="823" y="133" width="1" height="27" fill="#000"/>
<rect x="821" y="133" width="5" height="27" fill="#000"/>
<rect x="822" y="134" width="3" height="25" fill="#089981"/>
<rect x="829" y="105" width="1" height="39" fill="#000"/>
<rect x="827" y="133" width="5" height="6" fill="#000"/>
<rect x="828" y="134" width="3" height="4" fill="#f23645"/>
<rect x="835" y="123" width="1" height="20" fill="#000"/>
<rect x="833" y="125" width="5" height="14" fill="#000"/>
<rect x="834" y="126" width="3" height="12" fill="#089981"/>
<rect x="840" y="91" width="1" height="45" fill="#000"/>
<rect x="838" y="95" width="5" height="31" fill="#000"/>
<rect x="839" y="96" width="3" height="29" fill="#089981"/>
<rect x="846" y="84" width="1" height="68" fill="#000"/>
<rect x="844" y="95" width="5" height="47" fill="#000"/>
<rect x="845" y="96" width="3" height="45" fill="#f23645"/>
<rect x="852" y="133" width="1" height="23" fill="#000"/>
<rect x="850" y="141" width="5" height="10" fill="#000"/>
<rect x="851" y="142" width="3" height="8" fill="#f23645"/>
<rect x="858" y="145" width="1" height="7" fill="#000"/>
<rect x="856" y="150" width="5" height="1" fill="#000"/>
<rect x="864" y="139" width="1" height="13" fill="#000"/>
<rect x="862" y="150" width="5" height="1" fill="#000"/>
<rect x="870" y="148" width="1" height="28" fill="#000"/>
<rect x="868" y="150" width="5" height="12" fill="#000"/>
<rect x="869" y="151" width="3" height="10" fill="#f23645"/>
<rect x="876" y="156" width="1" height="38" fill="#000"/>
<rect x="874" y="161" width="5" height="33" fill="#000"/>
<rect x="875" y="162" width="3" height="31" fill="#f23645"/>
<rect x="882" y="176" width="1" height="22" fill="#000"/>
<rect x="880" y="180" width="5" height="14" fill="#000"/>
<rect x="881" y="181" width="3" height="12" fill="#089981"/>
<rect x="888" y="175" width="1" height="26" fill="#000"/>
<rect x="886" y="180" width="5" height="17" fill="#000"/>
<rect x="887" y="181" width="3" height="15" fill="#f23645"/>
<rect x="894" y="150" width="1" height="54" fill="#000"/>
<rect x="892" y="155" width="5" height="42" fill="#000"/>
<rect x="893" y="156" width="3" height="40" fill="#089981"/>
<rect x="899" y="154" width="1" height="24" fill="#000"/>
<rect x="897" y="155" width="5" height="15" fill="#000"/>
<rect x="898" y="156" width="3" height="13" fill="#f23645"/>
<rect x="905" y="167" width="1" height="47" fill="#000"/>
<rect x="903" y="169" width="5" height="19" fill="#000"/>
<rect x="904" y="170" width="3" height="17" fill="#f23645"/>
<rect x="911" y="186" width="1" height="40" fill="#000"/>
<rect x="909" y="187" width="5" height="32" fill="#000"/>
<rect x="910" y="188" width="3" height="30" fill="#f23645"/>
<rect x="917" y="197" width="1" height="35" fill="#000"/>
<rect x="915" y="203" width="5" height="16" fill="#000"/>
<rect x="916" y="204" width="3" height="14" fill="#089981"/>
<rect x="923" y="195" width="1" height="21" fill="#000"/>
<rect x="921" y="203" width="5" height="6" fill="#000"/>
<rect x="922" y="204" width="3" height="4" fill="#f23645"/>
<rect x="929" y="188" width="1" height="24" fill="#000"/>
<rect x="927" y="190" width="5" height="19" fill="#000"/>
<rect x="928" y="191" width="3" height="17" fill="#089981"/>
</g>
<g shape-rendering="crispEdges">
<line x1="10" y1="190.5" x2="1113" y2="190.5" stroke="#089981" stroke-width="1" stroke-dasharray="1 2"/>
</g>
<g font-size="11.8" fill="#131722">
<text transform="translate(17.57,45.80) scale(0.8592,1)" font-size="12.03" fill="#131722" stroke="#131722" stroke-width="0.3">EMA</text>
<text transform="translate(46.95,45.80) scale(1.0191,1)" font-size="11.86" fill="#f23645" stroke="#f23645" stroke-width="0.3">114,425.28</text>
<text transform="translate(17.57,62.70) scale(0.8592,1)" font-size="12.03" fill="#131722" stroke="#131722" stroke-width="0.3">EMA</text>
<text transform="translate(46.97,62.70) scale(1.0058,1)" font-size="11.86" fill="#302afc" stroke="#302afc" stroke-width="0.3">103,941.59</text>
<text transform="translate(18.60,79.30) scale(0.9703,1)" font-size="12.03" fill="#131722" stroke="#131722" stroke-width="0.3">Vol</text>
<text x="36.45" y="82.7" font-size="22" fill="#131722">·</text>
<text transform="translate(45.44,79.30) scale(0.8895,1)" font-size="12.03" fill="#131722" stroke="#131722" stroke-width="0.3">BTC</text>
<text transform="translate(74.10,79.30) scale(0.9616,1)" font-size="11.86" fill="#26a69a" stroke="#26a69a" stroke-width="0.3">1.85 K</text>
</g>
<g font-size="11.8" fill="#131722">
<text transform="translate(1122.87,54.70) scale(0.9935,1)" font-size="12.00" fill="#131722" stroke="#131722" stroke-width="0.3">128,000.00</text>
<text transform="translate(1122.87,92.00) scale(0.9935,1)" font-size="12.00" fill="#131722" stroke="#131722" stroke-width="0.3">124,000.00</text>
<text transform="translate(1122.85,166.60) scale(1.0087,1)" font-size="12.00" fill="#131722" stroke="#131722" stroke-width="0.3">116,000.00</text>
<text transform="translate(1122.87,241.20) scale(0.9935,1)" font-size="12.00" fill="#131722" stroke="#131722" stroke-width="0.3">108,000.00</text>
<text transform="translate(1122.87,315.80) scale(0.9935,1)" font-size="12.00" fill="#131722" stroke="#131722" stroke-width="0.3">100,000.00</text>
<text transform="translate(1123.23,353.10) scale(0.9891,1)" font-size="12.00" fill="#131722" stroke="#131722" stroke-width="0.3">96,000.00</text>
<text transform="translate(1123.23,390.40) scale(0.9891,1)" font-size="12.00" fill="#131722" stroke="#131722" stroke-width="0.3">92,000.00</text>
<text transform="translate(1123.23,427.70) scale(0.9891,1)" font-size="12.00" fill="#131722" stroke="#131722" stroke-width="0.3">88,000.00</text>
<text transform="translate(1123.23,465.00) scale(0.9891,1)" font-size="12.00" fill="#131722" stroke="#131722" stroke-width="0.3">84,000.00</text>
<text transform="translate(1123.23,502.30) scale(0.9891,1)" font-size="12.00" fill="#131722" stroke="#131722" stroke-width="0.3">80,000.00</text>
<text transform="translate(1123.11,539.60) scale(0.9914,1)" font-size="12.00" fill="#131722" stroke="#131722" stroke-width="0.3">76,000.00</text>
<text transform="translate(1123.11,576.90) scale(0.9914,1)" font-size="12.00" fill="#131722" stroke="#131722" stroke-width="0.3">72,000.00</text>
</g>
<path d="M1115,118H1186a2,2 0 0 1 2,2V133a2,2 0 0 1 -2,2H1115Z" fill="#2962ff"/>
<path d="M1115,165H1186a2,2 0 0 1 2,2V180a2,2 0 0 1 -2,2H1115Z" fill="#f23645"/>
<path d="M1115,182H1186a2,2 0 0 1 2,2V211a2,2 0 0 1 -2,2H1115Z" fill="#089981"/>
<path d="M1115,213H1186a2,2 0 0 1 2,2V227.6a2,2 0 0 1 -2,2H1115Z" fill="#2962ff"/>
<path d="M1115,268.2H1186a2,2 0 0 1 2,2V282.7a2,2 0 0 1 -2,2H1115Z" fill="#302afc"/>
<path d="M1115,578.7H1158.7a2,2 0 0 1 2,2V593.8a2,2 0 0 1 -2,2H1115Z" fill="#26a69a"/>
<g font-size="11.8" fill="#fff" font-weight="bold">
<text transform="translate(1122.88,129.80) scale(0.9931,1)" font-size="12.00" fill="#fff" font-weight="bold">120,000.00</text>
<text transform="translate(1122.88,176.70) scale(1.0024,1)" font-size="12.00" fill="#fff" font-weight="bold">114,425.28</text>
<text transform="translate(1122.88,193.50) scale(1.0024,1)" font-size="12.00" fill="#fff" font-weight="bold">113,159.98</text>
<text transform="translate(1122.88,224.60) scale(1.0044,1)" font-size="12.00" fill="#fff" font-weight="bold">110,000.00</text>
<text transform="translate(1122.88,280.10) scale(0.9931,1)" font-size="12.00" fill="#fff" font-weight="bold">103,941.59</text>
<text transform="translate(1123.14,591.80) scale(0.9145,1)" font-size="12.00" fill="#fff" font-weight="bold">1.85 K</text>
<text transform="translate(1122.96,207.60) scale(1.0281,1)" font-size="11.71" fill="#fff" fill-opacity="0.8">10:42:23</text>
</g>
<g>
<text transform="translate(39.66,616.00) scale(0.9505,1)" font-size="12.43" fill="#131722" font-weight="bold">Apr</text>
<text transform="translate(215.23,616.00) scale(0.9029,1)" font-size="12.43" fill="#131722" font-weight="bold">May</text>
<text transform="translate(399.38,616.00) scale(0.9380,1)" font-size="12.43" fill="#131722" font-weight="bold">Jun</text>
<text transform="translate(577.78,616.00) scale(0.9829,1)" font-size="12.43" fill="#131722" font-weight="bold">Jul</text>
<text transform="translate(759.17,616.00) scale(0.9070,1)" font-size="12.43" fill="#131722" font-weight="bold">Aug</text>
<text transform="translate(942.37,616.00) scale(0.9166,1)" font-size="12.43" fill="#131722" font-weight="bold">Sep</text>
</g>
<g transform="translate(958.6,584.6)"><circle r="10.8" fill="#fff"/><circle r="9.6" fill="none" stroke="#f23645" stroke-width="1.3"/><clipPath id="fc9586"><circle r="7.7"/></clipPath><g clip-path="url(#fc9586)"><rect x="-8" y="-8" width="16" height="16" fill="#fff"/><rect x="-8" y="-7.6" width="16" height="3" fill="#ef5350"/><rect x="-8" y="-1.5" width="16" height="3" fill="#ef5350"/><rect x="-8" y="4.5" width="16" height="3" fill="#ef5350"/><rect x="-8" y="-8" width="10.6" height="9.5" fill="#2f8be8"/><rect x="-4.7" y="-6.0" width="1" height="1" fill="#fff"/><rect x="-4.7" y="-3.5" width="1" height="1" fill="#fff"/><rect x="-4.7" y="-1.0" width="1" height="1" fill="#fff"/><rect x="-2.4" y="-6.0" width="1" height="1" fill="#fff"/><rect x="-2.4" y="-3.5" width="1" height="1" fill="#fff"/><rect x="-2.4" y="-1.0" width="1" height="1" fill="#fff"/><rect x="-0.1" y="-6.0" width="1" height="1" fill="#fff"/><rect x="-0.1" y="-3.5" width="1" height="1" fill="#fff"/><rect x="-0.1" y="-1.0" width="1" height="1" fill="#fff"/></g></g>
<g transform="translate(935.8,584.6)"><circle r="10.8" fill="#fff"/><circle r="9.6" fill="none" stroke="#f23645" stroke-width="1.3"/><clipPath id="fc9358"><circle r="7.7"/></clipPath><g clip-path="url(#fc9358)"><rect x="-8" y="-8" width="16" height="16" fill="#fff"/><rect x="-8" y="-7.6" width="16" height="3" fill="#ef5350"/><rect x="-8" y="-1.5" width="16" height="3" fill="#ef5350"/><rect x="-8" y="4.5" width="16" height="3" fill="#ef5350"/><rect x="-8" y="-8" width="10.6" height="9.5" fill="#2f8be8"/><rect x="-4.7" y="-6.0" width="1" height="1" fill="#fff"/><rect x="-4.7" y="-3.5" width="1" height="1" fill="#fff"/><rect x="-4.7" y="-1.0" width="1" height="1" fill="#fff"/><rect x="-2.4" y="-6.0" width="1" height="1" fill="#fff"/><rect x="-2.4" y="-3.5" width="1" height="1" fill="#fff"/><rect x="-2.4" y="-1.0" width="1" height="1" fill="#fff"/><rect x="-0.1" y="-6.0" width="1" height="1" fill="#fff"/><rect x="-0.1" y="-3.5" width="1" height="1" fill="#fff"/><rect x="-0.1" y="-1.0" width="1" height="1" fill="#fff"/></g></g>
<g transform="translate(928.4,584.6)"><circle r="10.8" fill="#fff"/><circle r="9.6" fill="none" stroke="#f23645" stroke-width="1.3"/><clipPath id="fc9284"><circle r="7.7"/></clipPath><g clip-path="url(#fc9284)"><rect x="-8" y="-8" width="16" height="16" fill="#fff"/><rect x="-8" y="-7.6" width="16" height="3" fill="#ef5350"/><rect x="-8" y="-1.5" width="16" height="3" fill="#ef5350"/><rect x="-8" y="4.5" width="16" height="3" fill="#ef5350"/><rect x="-8" y="-8" width="10.6" height="9.5" fill="#2f8be8"/><rect x="-4.7" y="-6.0" width="1" height="1" fill="#fff"/><rect x="-4.7" y="-3.5" width="1" height="1" fill="#fff"/><rect x="-4.7" y="-1.0" width="1" height="1" fill="#fff"/><rect x="-2.4" y="-6.0" width="1" height="1" fill="#fff"/><rect x="-2.4" y="-3.5" width="1" height="1" fill="#fff"/><rect x="-2.4" y="-1.0" width="1" height="1" fill="#fff"/><rect x="-0.1" y="-6.0" width="1" height="1" fill="#fff"/><rect x="-0.1" y="-3.5" width="1" height="1" fill="#fff"/><rect x="-0.1" y="-1.0" width="1" height="1" fill="#fff"/></g></g>
<g transform="translate(929.8,560.5)">
<circle r="10.4" fill="#fff"/>
<circle r="9.2" fill="none" stroke="#9c27b0" stroke-width="1.4"/>
<path d="M2.6,-4.8 L-4.4,0.8 L-0.4,0.5 L-3.2,5.0 L3.4,-0.6 L-0.2,-0.3 Z" fill="#9c27b0" stroke="#9c27b0" stroke-width="0.8" stroke-linejoin="round"/>
<circle cx="6.6" cy="-6.8" r="3.6" fill="#fff"/><circle cx="6.6" cy="-6.8" r="2.5" fill="#f23645"/>
<path d="M-10.9,-1.8 C-10.3,1.6 -9.2,2.9 -5.7,3.5 C-9.2,4.1 -10.3,5.4 -10.9,8.8 C-11.5,5.4 -12.6,4.1 -16.1,3.5 C-12.6,2.9 -11.5,1.6 -10.9,-1.8Z" fill="#7c4dff" stroke="#fff" stroke-width="1.2" paint-order="stroke"/>
</g>
<g fill="#0f0f0f">
<path d="M11.94,647.9H23.76V662.8H18.06V653.9H11.94Z"/><circle cx="29.0" cy="650.95" r="2.9"/><path d="M33.8,647.9H41.8L36.2,662.8H29.2Z"/>
</g>
<text transform="translate(48.89,662.90) scale(0.9589,1)" font-size="21.50" fill="#0f0f0f" font-weight="bold">TradingView</text>
</svg>
</body></html>
